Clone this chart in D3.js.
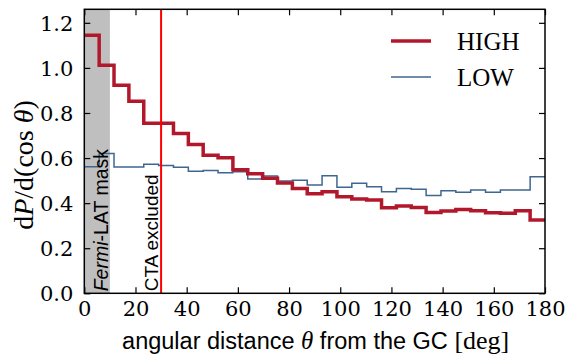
<!DOCTYPE html>
<html>
<head>
<meta charset="utf-8">
<script src="https://cdn.jsdelivr.net/npm/d3@7/dist/d3.min.js"></script>
<style>
  html, body { margin: 0; padding: 0; background: #fff; }
  svg { display: block; }
  .serif { font-family: "Liberation Serif", "DejaVu Serif", serif; }
  .tickfont { font-family: "DejaVu Serif", "Liberation Serif", serif; }
  .sans { font-family: "Liberation Sans", "DejaVu Sans", sans-serif; }
</style>
</head>
<body>
<svg id="chart" width="568" height="358"></svg>
<script>
// Angular bin edges in degrees (31 bins over 0..180)
const binEdges = [0, 5.81, 11.61, 17.42, 23.23, 29.03, 34.84, 40.65, 46.45, 52.26, 58.06,
  63.87, 69.68, 75.48, 81.29, 87.10, 92.90, 98.71, 104.52, 110.32, 116.13,
  121.94, 127.74, 133.55, 139.35, 145.16, 150.97, 156.77, 162.58, 168.39, 174.19, 180];

// dP/d(cos theta) per bin
const highValues = [1.145, 1.012, 0.923, 0.852, 0.754, 0.754, 0.709, 0.660, 0.613, 0.601,
  0.548, 0.530, 0.510, 0.489, 0.465, 0.442, 0.450, 0.428, 0.418, 0.414,
  0.380, 0.387, 0.381, 0.359, 0.365, 0.372, 0.366, 0.357, 0.355, 0.366, 0.325];
const lowValues = [0.561, 0.620, 0.560, 0.560, 0.572, 0.567, 0.559, 0.541, 0.545, 0.535,
  0.539, 0.507, 0.520, 0.498, 0.502, 0.481, 0.521, 0.470, 0.488, 0.473,
  0.450, 0.465, 0.462, 0.434, 0.455, 0.448, 0.458, 0.448, 0.458, 0.458, 0.517];

const seriesNames = ["HIGH", "LOW"];
const xTicks = [0, 20, 40, 60, 80, 100, 120, 140, 160, 180];
const yTicks = [0.0, 0.2, 0.4, 0.6, 0.8, 1.0, 1.2];
const maskRange = [0, 10];     // Fermi-LAT masked region, degrees
const ctaCut = 30;             // CTA exclusion boundary, degrees

const svg = d3.select("#chart");
const m = { left: 84.3, right: 545, top: 9.3, bottom: 293.3 };

const x = d3.scaleLinear().domain([0, 180]).range([m.left, m.right]);
const y = d3.scaleLinear().domain([0, 1.26]).range([m.bottom, m.top]);

svg.append("defs").append("clipPath").attr("id", "plotclip")
  .append("rect")
  .attr("x", m.left).attr("y", m.top)
  .attr("width", m.right - m.left).attr("height", m.bottom - m.top);

// masked band
svg.append("rect")
  .attr("x", x(maskRange[0])).attr("y", m.top)
  .attr("width", x(maskRange[1]) - x(maskRange[0]))
  .attr("height", m.bottom - m.top)
  .attr("fill", "#bfbfbf");

// step histograms
function stepPoints(vals) {
  const pts = vals.map((v, i) => [binEdges[i], v]);
  pts.push([binEdges[binEdges.length - 1], vals[vals.length - 1]]);
  return pts;
}
const line = d3.line().x(d => x(d[0])).y(d => y(d[1])).curve(d3.curveStepAfter);

const plot = svg.append("g").attr("clip-path", "url(#plotclip)");
plot.append("path").datum(stepPoints(lowValues))
  .attr("d", line).attr("fill", "none")
  .attr("stroke", "#3f6690").attr("stroke-width", 1.5);
plot.append("path").datum(stepPoints(highValues))
  .attr("d", line).attr("fill", "none")
  .attr("stroke", "#b2182b").attr("stroke-width", 3.5)
  .attr("stroke-linejoin", "miter");

// CTA cut line
plot.append("line")
  .attr("x1", x(ctaCut)).attr("x2", x(ctaCut))
  .attr("y1", m.top).attr("y2", m.bottom)
  .attr("stroke", "#ff0000").attr("stroke-width", 2);

// region annotations
const fermi = svg.append("text").attr("class", "sans")
  .attr("transform", `translate(${x(maskRange[1]) - 2},${m.bottom - 2}) rotate(-90)`)
  .attr("font-size", 19.5).attr("fill", "#000");
fermi.append("tspan").attr("font-style", "italic").text("Fermi");
fermi.append("tspan").text("-LAT mask");

svg.append("text").attr("class", "sans")
  .attr("transform", `translate(${x(ctaCut) - 3},${m.bottom - 2}) rotate(-90)`)
  .attr("font-size", 19).attr("fill", "#000")
  .text("CTA excluded");

// axes (ticks inward on all four sides)
const tickLen = 6;
const axBottom = d3.axisBottom(x).tickValues(xTicks).tickSizeInner(-tickLen).tickSizeOuter(0).tickFormat(d3.format("d"));
const axTop = d3.axisTop(x).tickValues(xTicks).tickSizeInner(-tickLen).tickSizeOuter(0).tickFormat("");
const axLeft = d3.axisLeft(y).tickValues(yTicks).tickSizeInner(-tickLen).tickSizeOuter(0).tickFormat(d3.format(".1f"));
const axRight = d3.axisRight(y).tickValues(yTicks).tickSizeInner(-tickLen).tickSizeOuter(0).tickFormat("");

function styleAxis(g) {
  g.select(".domain").remove();
  g.selectAll(".tick line").attr("stroke", "#000").attr("stroke-width", 1.2);
  g.selectAll(".tick text").attr("class", "tickfont").attr("font-size", 21).attr("fill", "#000");
}
svg.append("g").attr("transform", `translate(0,${m.bottom})`).call(axBottom).call(styleAxis)
  .selectAll(".tick text").attr("y", 7).attr("dy", "0.75em");
svg.append("g").attr("transform", `translate(0,${m.top})`).call(axTop).call(styleAxis);
svg.append("g").attr("transform", `translate(${m.left},0)`).call(axLeft).call(styleAxis)
  .selectAll(".tick text").attr("x", -11).attr("dy", "0.36em");
svg.append("g").attr("transform", `translate(${m.right},0)`).call(axRight).call(styleAxis);

// frame
svg.append("rect")
  .attr("x", m.left).attr("y", m.top)
  .attr("width", m.right - m.left).attr("height", m.bottom - m.top)
  .attr("fill", "none").attr("stroke", "#000").attr("stroke-width", 1.5);

// axis labels
const xl = svg.append("text").attr("class", "sans")
  .attr("x", (m.left + m.right) / 2 + 1).attr("y", 349)
  .attr("text-anchor", "middle").attr("font-size", 23.5).attr("fill", "#000");
xl.append("tspan").text("angular distance ");
xl.append("tspan").attr("class", "serif").attr("font-style", "italic").attr("font-size", 25).text("θ");
xl.append("tspan").text(" from the GC ");
xl.append("tspan").attr("class", "serif").attr("font-size", 26).text("[deg]");

const yl = svg.append("text").attr("class", "serif")
  .attr("transform", `translate(33,165) rotate(-90)`)
  .attr("text-anchor", "middle").attr("font-size", 28).attr("fill", "#000");
yl.append("tspan").text("d");
yl.append("tspan").attr("font-style", "italic").text("P");
yl.append("tspan").text("/d(cos ");
yl.append("tspan").attr("font-style", "italic").text("θ");
yl.append("tspan").text(")");

// legend
const legend = svg.append("g");
const legendStyle = [
  { color: "#b2182b", width: 3.5, y: 41 },
  { color: "#3f6690", width: 1.5, y: 77 }
];
seriesNames.forEach((name, i) => {
  const s = legendStyle[i];
  legend.append("line")
    .attr("x1", 391).attr("x2", 431).attr("y1", s.y).attr("y2", s.y)
    .attr("stroke", s.color).attr("stroke-width", s.width);
  legend.append("text").attr("class", "serif")
    .attr("x", 457).attr("y", s.y + 8.5)
    .attr("font-size", 25).attr("fill", "#000")
    .text(name);
});
</script>
</body>
</html>
